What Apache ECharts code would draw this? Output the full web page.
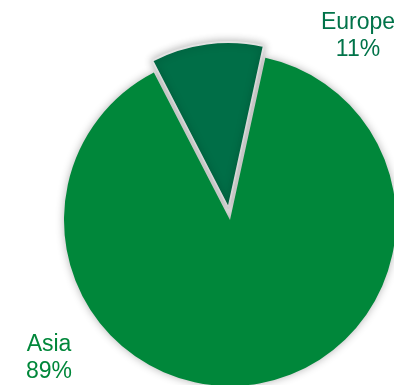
<!DOCTYPE html>
<html>
<head>
<meta charset="utf-8">
<script src="https://cdn.jsdelivr.net/npm/echarts@6/dist/echarts.min.js"></script>
<style>
  html, body { margin: 0; padding: 0; background: #ffffff; }
  #chart { width: 394px; height: 385px; }
</style>
</head>
<body>
<div id="chart"></div>
<script>
// Regional share (percent)
const regions = ['Europe', 'Asia'];
const shares = [11, 89];
const sliceColors = ['#006e47', '#00873a'];
const labelColors = ['#007349', '#00873a'];
// Label anchor points (px) for each region, in the same order
const labelAnchors = [[358, 36], [49, 358]];

const chart = echarts.init(document.getElementById('chart'), null, { renderer: 'canvas' });

const total = shares.reduce(function (a, b) { return a + b; }, 0);

chart.setOption({
  animation: false,
  backgroundColor: '#ffffff',
  graphic: regions.map(function (name, i) {
    return {
      type: 'text',
      x: labelAnchors[i][0],
      y: labelAnchors[i][1],
      silent: true,
      style: {
        text: name + '\n' + Math.round(shares[i] / total * 100) + '%',
        fill: labelColors[i],
        font: '23px "Liberation Sans", Arial, sans-serif',
        lineHeight: 27,
        align: 'center',
        verticalAlign: 'middle'
      }
    };
  }),
  series: [{
    type: 'pie',
    center: [230, 220],
    radius: [0, 166],
    startAngle: 117.3,
    clockwise: true,
    selectedMode: 'single',
    selectedOffset: 12,
    avoidLabelOverlap: false,
    emphasis: { disabled: true },
    label: { show: false },
    labelLine: { show: false },
    data: regions.map(function (name, i) {
      return {
        name: name,
        value: shares[i],
        selected: name === 'Europe',
        itemStyle: {
          color: sliceColors[i],
          borderColor: name === 'Europe' ? '#e2e2e2' : 'rgba(0,0,0,0)',
          borderWidth: name === 'Europe' ? 2 : 0,
          shadowBlur: 8,
          shadowColor: 'rgba(0,0,0,0.3)'
        }
      };
    })
  }]
});
</script>
</body>
</html>
